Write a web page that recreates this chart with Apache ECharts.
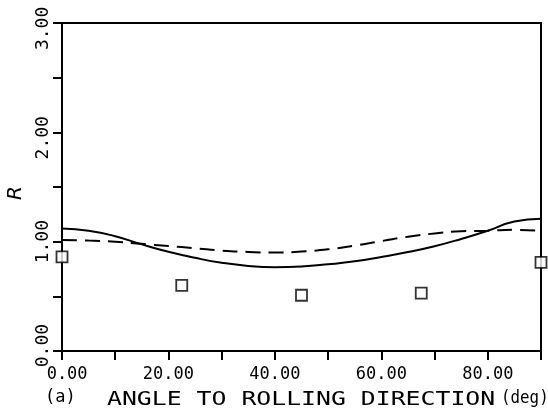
<!DOCTYPE html>
<html>
<head>
<meta charset="utf-8">
<script src="https://cdn.jsdelivr.net/npm/echarts@6/dist/echarts.min.js"></script>
<style>
  html, body { margin: 0; padding: 0; background: #fff; }
  #chart { width: 548px; height: 414px; }
</style>
</head>
<body>
<div id="chart"></div>
<script>
// Angle to rolling direction (deg) at which the curves are sampled
var angles = [0, 5, 10, 15, 20, 25, 30, 35, 40, 45, 50, 55, 60, 65, 70, 75, 80, 85, 90];
// Predicted R (solid curve)
var rSolid = [1.12, 1.10, 1.05, 0.975, 0.907, 0.852, 0.807, 0.778, 0.767, 0.773, 0.793, 0.82, 0.86, 0.905, 0.958, 1.025, 1.10, 1.185, 1.21];
// Predicted R (dashed curve)
var rDashed = [1.015, 1.01, 1.0, 0.98, 0.96, 0.94, 0.918, 0.906, 0.90, 0.91, 0.93, 0.965, 1.005, 1.045, 1.075, 1.095, 1.10, 1.108, 1.10];
// Measured R values
var measAngles = [0, 22.5, 45, 67.5, 90];
var measR = [0.86, 0.60, 0.51, 0.53, 0.81];
// Axis tick labels (padded with spaces so the end labels clear each other)
var xTickLabels = { 0: ' 0.00', 20: '20.00', 40: '40.00', 60: '60.00', 80: '80.00' };
var yTickLabels = { 0: ' 0.00', 1: '1.00', 2: '2.00 ', 3: '3.00 ' };

var mono = '"DejaVu Sans Mono", "Liberation Mono", monospace';

function pairs(xs, ys) {
  return xs.map(function (x, i) { return [x, ys[i]]; });
}

var chart = echarts.init(document.getElementById('chart'), null, { renderer: 'canvas' });
chart.setOption({
  animation: false,
  backgroundColor: '#ffffff',
  grid: {
    left: 62, right: 7, top: 23, bottom: 63,
    outerBoundsMode: 'none', containLabel: false,
    show: true, borderColor: '#000', borderWidth: 2, backgroundColor: 'transparent'
  },
  xAxis: {
    type: 'value', min: 0, max: 90, interval: 10,
    axisLine: { show: true, lineStyle: { color: '#000', width: 2 } },
    axisTick: { show: true, length: 9, lineStyle: { color: '#000', width: 2 } },
    splitLine: { show: false },
    axisLabel: {
      margin: 15, color: '#000', fontFamily: mono, fontSize: 17,
      formatter: function (v) { return xTickLabels[v] || ''; }
    }
  },
  yAxis: {
    type: 'value', min: 0, max: 3, interval: 0.5,
    name: 'R', nameLocation: 'middle', nameRotate: 90, nameGap: 35,
    nameTextStyle: { color: '#000', fontFamily: '"DejaVu Sans", sans-serif', fontStyle: 'italic', fontSize: 20, padding: [0, 0, 0, -12] },
    axisLine: { show: true, lineStyle: { color: '#000', width: 2 } },
    axisTick: { show: true, length: 9, lineStyle: { color: '#000', width: 2 } },
    splitLine: { show: false },
    axisLabel: {
      rotate: 90, margin: 10, color: '#000', fontFamily: mono, fontSize: 18,
      formatter: function (v) { return yTickLabels[v] || ''; }
    }
  },
  series: [
    {
      type: 'line', data: pairs(angles, rSolid), smooth: true, showSymbol: false,
      lineStyle: { color: '#000', width: 2 }, clip: false
    },
    {
      type: 'line', data: pairs(angles, rDashed), smooth: true, showSymbol: false,
      lineStyle: { color: '#000', width: 2, type: [15, 8] }, clip: false
    },
    {
      type: 'scatter', data: pairs(measAngles, measR), symbol: 'rect', symbolSize: 11,
      itemStyle: { color: '#fff', borderColor: '#000', borderWidth: 1.8 }, clip: false, z: 5
    }
  ],
  graphic: [
    {
      type: 'text', x: 45, y: 389,
      style: { text: '(a)', fill: '#000', font: '17px ' + mono }
    },
    {
      type: 'text', x: 107, y: 390, scaleX: 1.24,
      style: { text: 'ANGLE TO ROLLING DIRECTION', fill: '#000', font: '20px ' + mono }
    },
    {
      type: 'text', x: 501, y: 389, scaleX: 0.88,
      style: { text: '(deg)', fill: '#000', font: '18px ' + mono }
    }
  ]
});
</script>
</body>
</html>
